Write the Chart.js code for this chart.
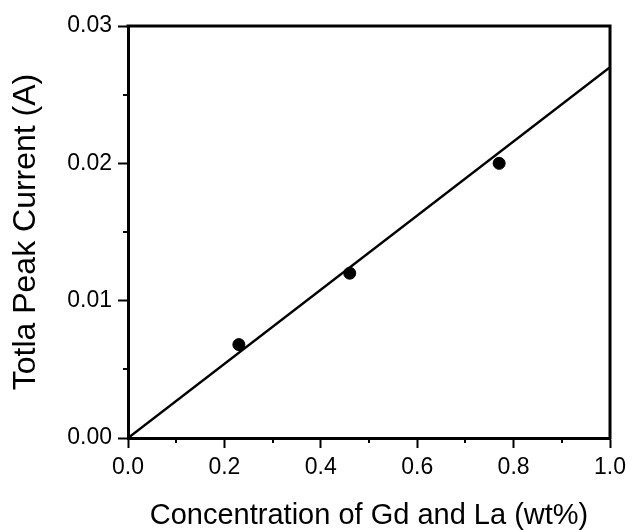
<!DOCTYPE html>
<html>
<head>
<meta charset="utf-8">
<script src="https://cdn.jsdelivr.net/npm/chart.js@4.4.1/dist/chart.umd.min.js"></script>
<style>
  html, body { margin: 0; padding: 0; background: #fff; }
  #wrap { width: 632px; height: 530px; }
</style>
</head>
<body>
<div id="wrap"><canvas id="c" width="632" height="530"></canvas></div>
<script>
// Data
const concentration = [0.23, 0.46, 0.77];      // wt%
const peakCurrent = [0.0068, 0.0120, 0.0200];  // A
const fitX = [0.0, 1.0];
const fitY = [0.0, 0.027];
const xTicks = [0.0, 0.2, 0.4, 0.6, 0.8, 1.0];
const yTicks = [0.00, 0.01, 0.02, 0.03];
const xMinorTicks = [0.1, 0.3, 0.5, 0.7, 0.9];
const yMinorTicks = [0.005, 0.015, 0.025];
const xTitle = 'Concentration of Gd and La (wt%)';
const yTitle = 'Totla Peak Current (A)';

const FONT = "'Liberation Sans', Arial, sans-serif";

const framePlugin = {
  id: 'frame',
  afterDraw(chart) {
    const {ctx, chartArea: a, scales: {x, y}} = chart;
    ctx.save();
    ctx.strokeStyle = '#000';
    ctx.lineCap = 'butt';
    // minor ticks
    ctx.lineWidth = 2;
    ctx.beginPath();
    xMinorTicks.forEach(v => {
      const px = Math.round(x.getPixelForValue(v));
      ctx.moveTo(px, a.bottom);
      ctx.lineTo(px, a.bottom + 5);
    });
    yMinorTicks.forEach(v => {
      const py = Math.round(y.getPixelForValue(v));
      ctx.moveTo(a.left, py);
      ctx.lineTo(a.left - 5, py);
    });
    ctx.stroke();
    // top and right frame
    ctx.lineWidth = 3;
    ctx.beginPath();
    ctx.moveTo(a.left - 1.5, a.top);
    ctx.lineTo(a.right, a.top);
    ctx.lineTo(a.right, a.bottom + 1.5);
    ctx.stroke();
    ctx.restore();
  }
};

new Chart(document.getElementById('c'), {
  data: {
    datasets: [
      {
        type: 'line',
        data: fitX.map((v, i) => ({x: v, y: fitY[i]})),
        borderColor: '#000',
        borderWidth: 2.5,
        pointRadius: 0,
        fill: false,
        tension: 0
      },
      {
        type: 'scatter',
        data: concentration.map((v, i) => ({x: v, y: peakCurrent[i]})),
        backgroundColor: '#000',
        borderColor: '#000',
        pointRadius: 6,
        pointHoverRadius: 6
      }
    ]
  },
  options: {
    responsive: false,
    animation: false,
    layout: { padding: { top: 26, right: 19, left: 0, bottom: 0 } },
    plugins: { legend: { display: false }, tooltip: { enabled: false } },
    scales: {
      x: {
        type: 'linear',
        min: 0, max: 1,
        afterFit(s) { s.height = 92; },
        afterBuildTicks(s) { s.ticks = xTicks.map(v => ({value: v})); },
        ticks: {
          color: '#000',
          font: { family: FONT, size: 23 },
          padding: 6,
          maxRotation: 0,
          callback: v => Number(v).toFixed(1)
        },
        grid: { display: true, drawOnChartArea: false, drawTicks: true, tickLength: 10, tickWidth: 2, tickColor: '#000' },
        border: { display: true, color: '#000', width: 3 },
        title: { display: true, text: xTitle, color: '#000', font: { family: FONT, size: 29, lineHeight: 1 }, padding: { top: 0, bottom: 0 } }
      },
      y: {
        type: 'linear',
        min: 0, max: 0.03,
        afterFit(s) { s.width = 128; },
        afterBuildTicks(s) { s.ticks = yTicks.map(v => ({value: v})); },
        ticks: {
          color: '#000',
          font: { family: FONT, size: 23 },
          padding: 6,
          callback: v => Number(v).toFixed(2)
        },
        grid: { display: true, drawOnChartArea: false, drawTicks: true, tickLength: 10, tickWidth: 2, tickColor: '#000' },
        border: { display: true, color: '#000', width: 3 },
        title: { display: true, text: yTitle, color: '#000', font: { family: FONT, size: 32, lineHeight: 1 }, padding: { top: 10, bottom: 0 } }
      }
    }
  },
  plugins: [framePlugin]
});
</script>
</body>
</html>
